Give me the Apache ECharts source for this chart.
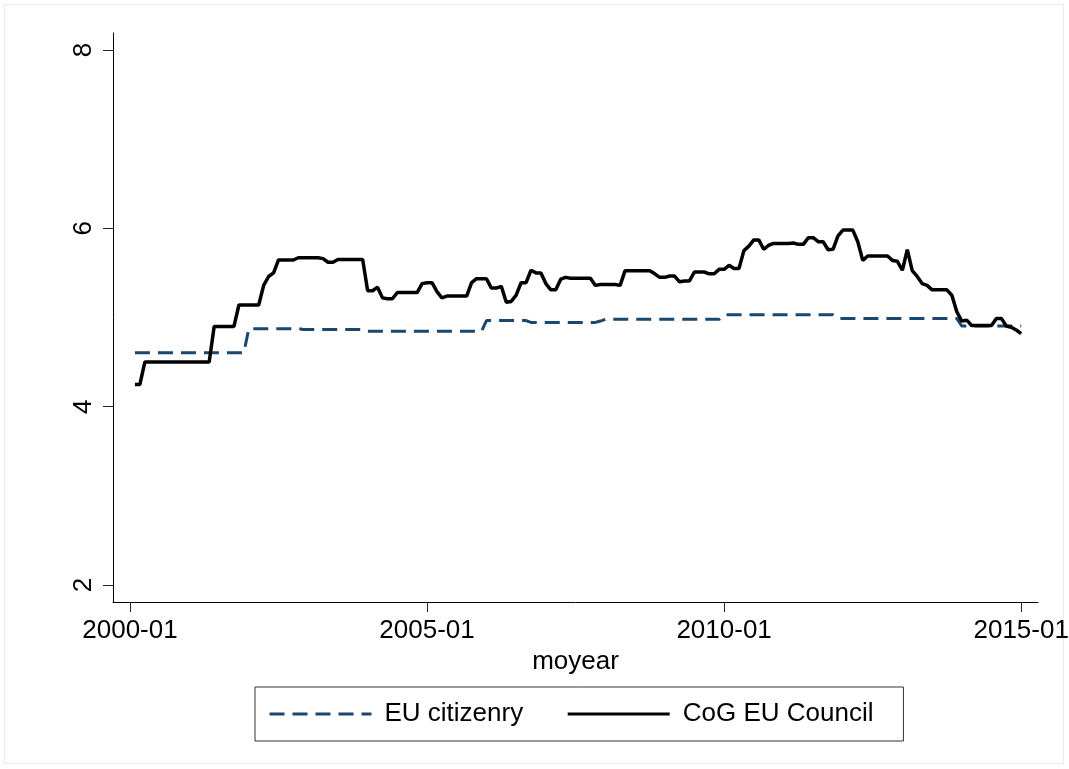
<!DOCTYPE html>
<html>
<head>
<meta charset="utf-8">
<script src="https://cdn.jsdelivr.net/npm/echarts@6/dist/echarts.min.js"></script>
<style>
html, body { margin: 0; padding: 0; background: #fff; }
#chart { width: 1069px; height: 769px; }
</style>
</head>
<body>
<div id="chart"></div>
<script>
// months counted from 2000-01 (= 0); both series start at 2000-02
var firstMonth = 1;
var xTickMonths = [0, 60, 120, 180];
var xTickLabels = ['2000-01', '2005-01', '2010-01', '2015-01'];
var yTicks = [2, 4, 6, 8];
var seriesNames = ['EU citizenry', 'CoG EU Council'];

var citizenry = [
  4.605, 4.605, 4.605, 4.605, 4.605, 4.605, 4.605, 4.605, 4.605, 4.605, 4.605, 4.605,
  4.605, 4.605, 4.605, 4.605, 4.605, 4.605, 4.605, 4.605, 4.605, 4.605, 4.605, 4.875,
  4.875, 4.875, 4.875, 4.875, 4.875, 4.875, 4.875, 4.875, 4.875, 4.875, 4.865, 4.865,
  4.865, 4.865, 4.865, 4.865, 4.865, 4.865, 4.865, 4.865, 4.865, 4.865, 4.865, 4.845,
  4.845, 4.845, 4.845, 4.845, 4.845, 4.845, 4.845, 4.845, 4.845, 4.845, 4.845, 4.845,
  4.845, 4.845, 4.845, 4.845, 4.845, 4.845, 4.845, 4.845, 4.845, 4.845, 4.845, 4.965,
  4.965, 4.965, 4.965, 4.965, 4.965, 4.965, 4.965, 4.965, 4.945, 4.945, 4.945, 4.945,
  4.945, 4.945, 4.945, 4.945, 4.945, 4.945, 4.945, 4.945, 4.945, 4.945, 4.96, 4.98,
  4.98, 4.98, 4.98, 4.98, 4.98, 4.98, 4.98, 4.98, 4.98, 4.98, 4.98, 4.98,
  4.98, 4.98, 4.98, 4.98, 4.98, 4.98, 4.98, 4.98, 4.98, 4.98, 4.98, 5.03,
  5.03, 5.03, 5.03, 5.03, 5.03, 5.03, 5.03, 5.03, 5.03, 5.03, 5.03, 5.03,
  5.03, 5.03, 5.03, 5.03, 5.03, 5.03, 5.03, 5.03, 5.03, 5.03, 4.99, 4.99,
  4.99, 4.99, 4.99, 4.99, 4.99, 4.99, 4.99, 4.99, 4.99, 4.99, 4.99, 4.99,
  4.99, 4.99, 4.99, 4.99, 4.99, 4.99, 4.99, 4.99, 4.99, 4.99, 4.99, 4.905,
  4.905, 4.905, 4.905, 4.905, 4.905, 4.905, 4.905, 4.905, 4.905, 4.905, 4.905, 4.905
];

var council = [
  4.25, 4.25, 4.50, 4.50, 4.50, 4.50, 4.50, 4.50, 4.50, 4.50, 4.50, 4.50,
  4.50, 4.50, 4.50, 4.50, 4.90, 4.90, 4.90, 4.90, 4.90, 5.14, 5.14, 5.14,
  5.14, 5.14, 5.36, 5.46, 5.50, 5.645, 5.645, 5.645, 5.645, 5.67, 5.67, 5.67,
  5.67, 5.67, 5.66, 5.62, 5.62, 5.65, 5.65, 5.65, 5.65, 5.65, 5.65, 5.30,
  5.30, 5.34, 5.22, 5.21, 5.21, 5.28, 5.28, 5.28, 5.28, 5.28, 5.38, 5.39,
  5.39, 5.29, 5.22, 5.24, 5.24, 5.24, 5.24, 5.24, 5.39, 5.435, 5.435, 5.435,
  5.33, 5.33, 5.35, 5.17, 5.18, 5.25, 5.39, 5.39, 5.53, 5.50, 5.50, 5.38,
  5.31, 5.31, 5.43, 5.45, 5.44, 5.44, 5.44, 5.44, 5.44, 5.36, 5.37, 5.37,
  5.37, 5.37, 5.36, 5.525, 5.525, 5.525, 5.525, 5.525, 5.525, 5.49, 5.45, 5.45,
  5.465, 5.465, 5.40, 5.41, 5.41, 5.51, 5.51, 5.51, 5.49, 5.49, 5.54, 5.54,
  5.585, 5.55, 5.55, 5.75, 5.80, 5.87, 5.87, 5.765, 5.81, 5.83, 5.83, 5.83,
  5.83, 5.835, 5.82, 5.82, 5.895, 5.895, 5.85, 5.85, 5.76, 5.765, 5.915, 5.98,
  5.98, 5.98, 5.85, 5.64, 5.69, 5.69, 5.69, 5.69, 5.69, 5.64, 5.63, 5.53,
  5.76, 5.525, 5.46, 5.38, 5.36, 5.31, 5.31, 5.31, 5.31, 5.25, 5.065, 4.96,
  4.97, 4.91, 4.91, 4.91, 4.91, 4.91, 4.99, 4.99, 4.905, 4.89, 4.86, 4.82
];

function toPoints(values) {
  return values.map(function (v, i) { return [firstMonth + i, v]; });
}

var font = 'Liberation Sans, Arial, sans-serif';
var myChart = echarts.init(document.getElementById('chart'));

var option = {
  backgroundColor: '#fff',
  animation: false,
  textStyle: { fontFamily: font },
  graphic: [
    { // 外框
      type: 'rect',
      shape: { x: 4.5, y: 4.5, width: 1059, height: 759 },
      style: { fill: 'none', stroke: '#e3ebf0', lineWidth: 1 },
      silent: true
    }
  ],
  grid: {
    left: 113,
    right: 31,
    top: 33,
    bottom: 167,
    outerBoundsMode: 'none' // 不自动收缩
  },
  legend: {
    left: 255,
    top: 687,
    itemWidth: 102,
    itemHeight: 26,
    itemGap: 43,
    padding: [14, 30, 14, 13],
    borderColor: '#333',
    borderWidth: 1,
    itemStyle: { opacity: 0 }, // 去掉图例中间的圆点
    lineStyle: { width: 3 },
    textStyle: { fontSize: 26, color: '#000', fontFamily: font, padding: [0, 0, 0, 8] },
    data: seriesNames
  },
  xAxis: {
    type: 'value',
    min: -3.43,
    max: 183.4,
    name: 'moyear',
    nameLocation: 'middle',
    nameGap: 46,
    nameTextStyle: { fontSize: 26, color: '#000', fontFamily: font },
    axisLine: { show: true, onZero: false, lineStyle: { color: '#000', width: 1 } },
    axisTick: { show: true, length: 10, customValues: xTickMonths, lineStyle: { color: '#222' } },
    axisLabel: {
      customValues: xTickMonths,
      fontSize: 26,
      color: '#000',
      margin: 16,
      formatter: function (v) { return xTickLabels[xTickMonths.indexOf(v)]; }
    },
    splitLine: { show: false }
  },
  yAxis: {
    type: 'value',
    min: 1.81,
    max: 8.19,
    axisLine: { show: true, onZero: false, lineStyle: { color: '#000', width: 1 } },
    axisTick: { show: true, length: 10, customValues: yTicks, lineStyle: { color: '#222' } },
    axisLabel: {
      customValues: yTicks,
      rotate: 90,
      fontSize: 26,
      color: '#000',
      margin: 16
    },
    splitLine: { show: false }
  },
  series: [
    {
      name: seriesNames[0],
      type: 'line',
      symbol: 'none',
      data: toPoints(citizenry),
      lineStyle: { color: '#1a476f', width: 3, type: [15, 8] },
      itemStyle: { color: '#1a476f' },
      z: 2
    },
    {
      name: seriesNames[1],
      type: 'line',
      symbol: 'none',
      data: toPoints(council),
      lineStyle: { color: '#000', width: 3.5 },
      itemStyle: { color: '#000' },
      z: 3
    }
  ]
};
myChart.setOption(option);
</script>
</body>
</html>
